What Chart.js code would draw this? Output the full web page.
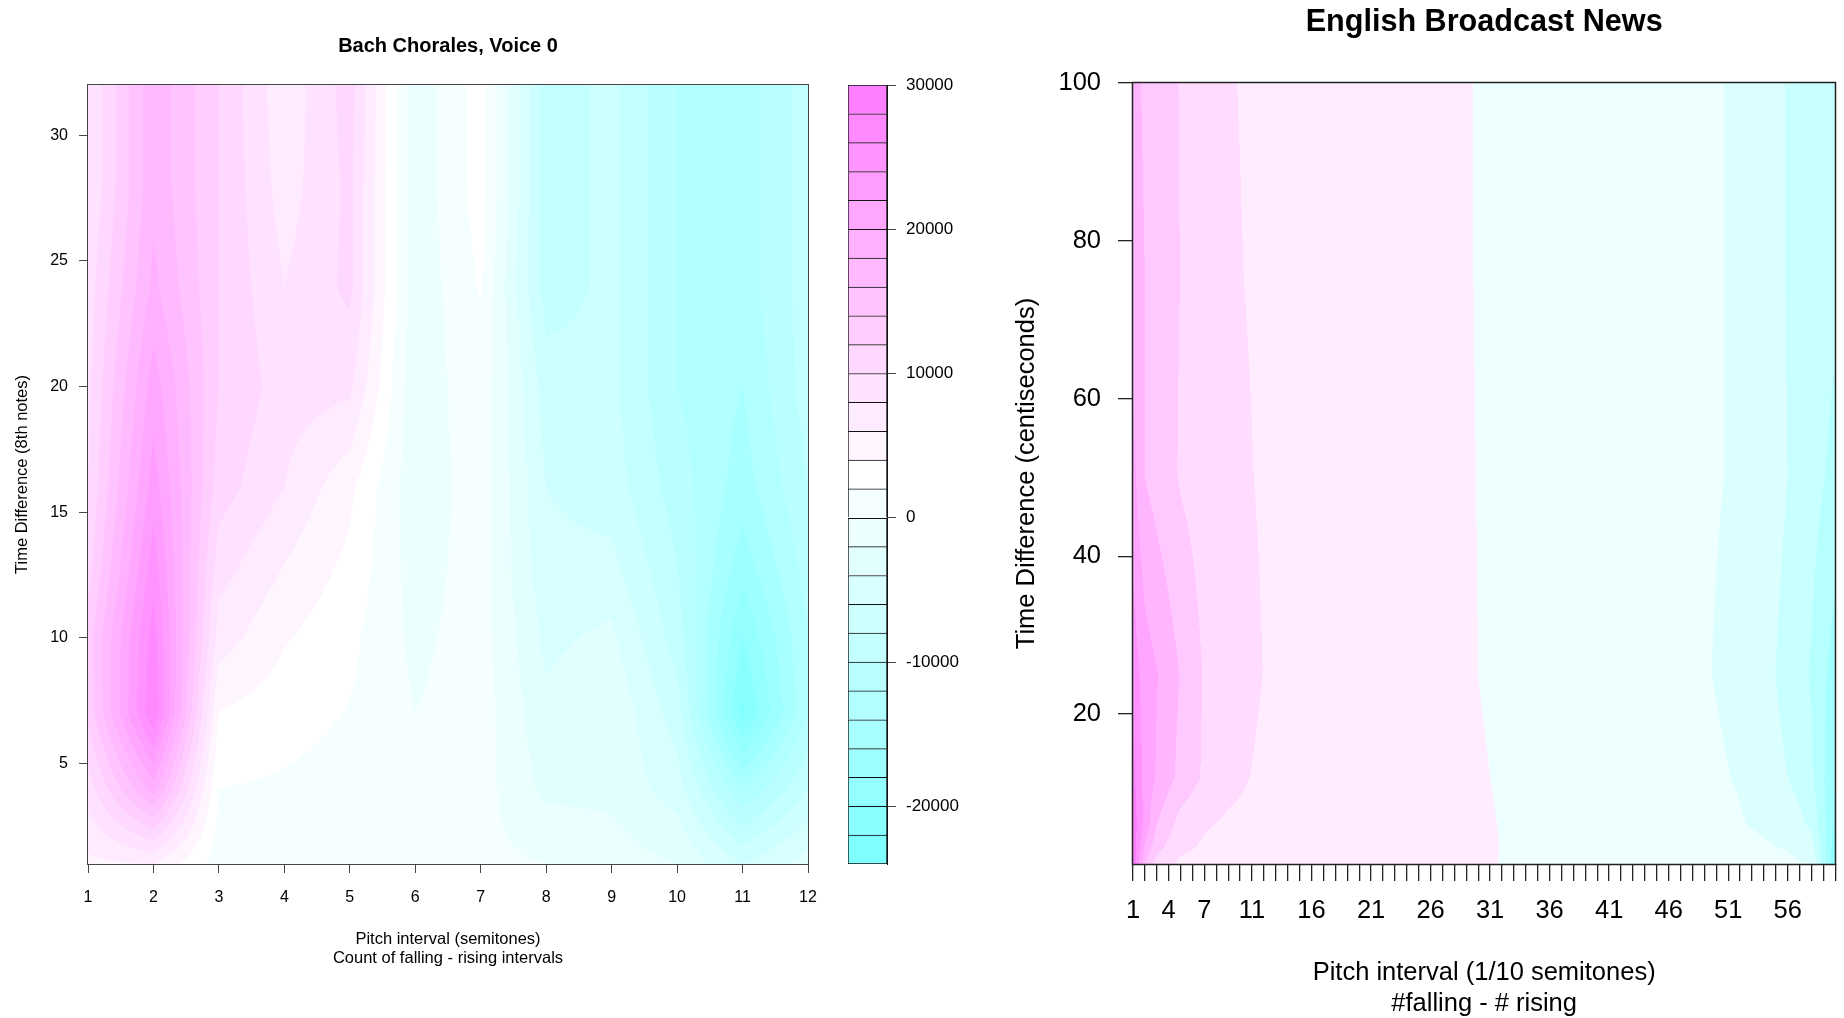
<!DOCTYPE html>
<html><head><meta charset="utf-8">
<script src="https://cdn.jsdelivr.net/npm/chart.js@4.4.1/dist/chart.umd.min.js"></script>
<style>
html,body{margin:0;padding:0;background:#fff;width:1844px;height:1018px;overflow:hidden;position:relative;}
.box{position:absolute;top:0;height:1018px;}
#w1{left:0;width:840px;} #w2{left:840px;width:150px;} #w3{left:990px;width:860px;}
canvas{display:block;}
</style></head><body>
<div class="box" id="w1"><canvas id="bach" width="840" height="1018"></canvas></div>
<div class="box" id="w2"><canvas id="bachKey" width="150" height="1018"></canvas></div>
<div class="box" id="w3"><canvas id="news" width="860" height="1018"></canvas></div>
<script>
// ---------------- Bach Chorales, Voice 0 ----------------
const bachPitch = [1, 2, 3, 4, 5, 6, 7, 8, 9, 10, 11, 12];          // semitones
const bachTime  = [1, 4, 7, 10, 13, 16, 20, 24, 28, 32];            // 8th notes
// count of falling - rising intervals; one row per bachTime value
const bachCount = [
  [ 5500,  6000,  1000,  1000,   800,   500,   500,     0, -1000,  -2000,  -6000,  -3000],
  [ 9000, 19000,  2000,  1700,  1200,   300,   800, -2500, -2500,  -5000, -14000,  -8000],
  [12500, 28000,  3900,  2800,  1900,     0,  1000, -3500, -2200,  -7000, -22500, -12000],
  [13000, 27000,  7000,  4200,  2500,  -500,  1000, -4500, -3500,  -9000, -20000, -12000],
  [11000, 25000,  9000,  6000,  3500, -1000,  1000, -5500, -5500, -10000, -17000, -11000],
  [10000, 23000, 11000,  8000,  4500, -1500,  1200, -6000, -7000, -11000, -15000, -10000],
  [ 9500, 21000, 12000,  9000,  8500, -1500,  1500, -7000, -7500, -12000, -14000,  -9000],
  [ 9000, 18500, 12000,  8000, 10500, -1500,  2200, -9000, -7500, -12000, -13000,  -9000],
  [ 8000, 17500, 12000,  7000, 10500, -1500,  3000, -9000, -7500, -12000, -13000,  -9000],
  [ 8000, 17500, 12000,  6500, 11000, -1500,  3000, -9000, -7500, -12000, -13000,  -9000]
];
const bachLevels = [-24000, -22000, -20000, -18000, -16000, -14000, -12000, -10000, -8000, -6000,
  -4000, -2000, 0, 2000, 4000, 6000, 8000, 10000, 12000, 14000, 16000, 18000, 20000, 22000,
  24000, 26000, 28000, 30000];
const bachXTicks = [1, 2, 3, 4, 5, 6, 7, 8, 9, 10, 11, 12];
const bachYTicks = [5, 10, 15, 20, 25, 30];
const bachKeyTicks = [-20000, -10000, 0, 10000, 20000, 30000];

// ---------------- English Broadcast News ----------------
const newsPitch = [1, 2, 3, 5, 7, 9, 12, 20, 28, 32, 40, 48, 52, 56, 58, 60];   // 1/10 semitones
const newsTime  = [1, 3, 6, 12, 25, 50, 75, 100];                                // centiseconds
// #falling - #rising (relative units); one row per newsTime value
const newsCount = [
  [6.9, 3.0, 1.5, 0.8, 0.65, 0.55, 0.5, 0.3, 0.2, -0.02, -0.25, -0.5, -0.6, -0.8, -1.0, -6.0],
  [6.8, 3.8, 2.3, 1.2, 0.85, 0.7, 0.6, 0.35, 0.2, -0.01, -0.3, -0.6, -0.75, -1.05, -1.6, -5.6],
  [6.6, 4.7, 3.0, 1.6, 1.1, 0.85, 0.7, 0.4, 0.18, -0.02, -0.35, -0.7, -0.95, -1.3, -2.2, -5.2],
  [6.3, 4.6, 3.9, 2.7, 1.85, 1.3, 0.8, 0.45, 0.15, -0.05, -0.4, -0.8, -1.05, -2.0, -2.8, -5.0],
  [5.6, 4.5, 4.05, 2.95, 1.9, 1.6, 0.98, 0.5, 0.1, -0.1, -0.4, -0.9, -1.15, -2.3, -3.1, -4.5],
  [4.3, 3.0, 2.6, 1.9, 1.55, 1.25, 0.9, 0.5, 0.1, -0.12, -0.45, -0.9, -1.05, -2.0, -2.6, -3.3],
  [3.5, 3.0, 2.6, 1.98, 1.6, 1.1, 0.87, 0.5, 0.1, -0.15, -0.45, -0.9, -1.05, -2.05, -2.4, -2.8],
  [3.3, 2.85, 2.5, 1.95, 1.6, 1.05, 0.85, 0.5, 0.1, -0.15, -0.45, -0.9, -1.05, -2.05, -2.3, -2.6]
];
const newsLevels = [-7, -6, -5, -4, -3, -2, -1, 0, 1, 2, 3, 4, 5, 6, 7];
const newsXTicks = [1,2,3,4,5,6,7,8,9,10,11,12,13,14,15,16,17,18,19,20,21,22,23,24,25,26,27,28,29,30,
  31,32,33,34,35,36,37,38,39,40,41,42,43,44,45,46,47,48,49,50,51,52,53,54,55,56,57,58,59,60];
const newsXTickLabels = [1, 4, 7, 11, 16, 21, 26, 31, 36, 41, 46, 51, 56];
const newsYTicks = [20, 40, 60, 80, 100];

// ---------------- helpers ----------------
Chart.defaults.font.family = "'Liberation Sans', Arial, Helvetica, sans-serif";
Chart.defaults.color = '#000';

function seq(a, b, n) { const o = []; for (let i = 0; i < n; i++) o.push(n === 1 ? a : a + (b - a) * i / (n - 1)); return o; }
// R's cm.colors palette (cyan -> white -> magenta)
function cmColors(n) {
  const even = n % 2 === 0, k = Math.floor(n / 2);
  const l1 = k + 1 - (even ? 1 : 0), l2 = n - k + (even ? 1 : 0);
  const out = [];
  seq(0.5, even ? 0.5 / k : 0, l1).forEach(s => out.push([Math.round(255 * (1 - s)), 255, 255]));
  seq(0, 0.5, l2).slice(1).forEach(s => out.push([255, Math.round(255 * (1 - s)), 255]));
  return out;
}
const rgb = c => `rgb(${c[0]},${c[1]},${c[2]})`;
function locate(g, v) {
  let i = 0;
  while (i < g.length - 2 && v > g[i + 1]) i++;
  let t = (v - g[i]) / (g[i + 1] - g[i]);
  return [i, Math.max(0, Math.min(1, t))];
}
function gridPoints(gx, gy, z) {
  const pts = [];
  gy.forEach((yv, j) => gx.forEach((xv, i) => pts.push({x: xv, y: yv, v: z[j][i]})));
  return pts;
}
// filled-contour painter: colours every pixel of the plot area by the band its value falls in
function contourFill(gx, gy, z, levels, colors, frame) {
  return {
    id: 'contourFill',
    beforeDraw(chart) {
      const {ctx, chartArea: a, scales} = chart;
      const sx = scales.x, sy = scales.y;
      const L = Math.round(a.left), T = Math.round(a.top);
      const w = Math.round(a.right) - L, h = Math.round(a.bottom) - T;
      const img = ctx.createImageData(w, h), d = img.data;
      const ci = new Int32Array(w), ct = new Float64Array(w);
      for (let px = 0; px < w; px++) { const r = locate(gx, sx.getValueForPixel(L + px + 0.5)); ci[px] = r[0]; ct[px] = r[1]; }
      const nb = colors.length;
      for (let py = 0; py < h; py++) {
        const r = locate(gy, sy.getValueForPixel(T + py + 0.5));
        const j = r[0], u = r[1], r0 = z[j], r1 = z[j + 1];
        for (let px = 0; px < w; px++) {
          const i = ci[px], t = ct[px];
          const a0 = r0[i] + (r0[i + 1] - r0[i]) * t;
          const a1 = r1[i] + (r1[i + 1] - r1[i]) * t;
          const v = a0 + (a1 - a0) * u;
          let k = 0;
          while (k < nb - 1 && v >= levels[k + 1]) k++;
          const c = colors[k], o = (py * w + px) * 4;
          d[o] = c[0]; d[o + 1] = c[1]; d[o + 2] = c[2]; d[o + 3] = 255;
        }
      }
      ctx.putImageData(img, L, T);
    },
    afterDraw(chart) {
      const {ctx, chartArea: a} = chart;
      const L = Math.round(a.left), T = Math.round(a.top), R = Math.round(a.right), B = Math.round(a.bottom);
      ctx.save();
      ctx.strokeStyle = frame.color; ctx.lineWidth = frame.width;
      ctx.strokeRect(L - 0.5, T - 0.5, R - L + 1, B - T + 1);
      ctx.restore();
    }
  };
}

// ---------------- Bach chart ----------------
const bachColors = cmColors(bachLevels.length - 1);
new Chart(document.getElementById('bach'), {
  type: 'scatter',
  data: {datasets: [{data: gridPoints(bachPitch, bachTime, bachCount), pointRadius: 0, pointHoverRadius: 0, showLine: false}]},
  options: {
    responsive: false, animation: false, devicePixelRatio: 1, events: [],
    layout: {padding: {left: 0, right: 32, top: 0, bottom: 0}},
    plugins: {
      legend: {display: false}, tooltip: {enabled: false},
      title: {display: true, text: 'Bach Chorales, Voice 0', fullSize: false, color: '#000',
        font: {size: 20, weight: 'bold', lineHeight: 1.2}, padding: {top: 34, bottom: 27}}
    },
    scales: {
      x: {
        type: 'linear', min: 1, max: 12,
        afterBuildTicks: s => { s.ticks = bachXTicks.map(v => ({value: v})); },
        afterFit: s => { s.height = 154; },
        ticks: {autoSkip: false, maxRotation: 0, minRotation: 0, padding: 15.4, font: {size: 16}, color: '#000', callback: v => String(v)},
        grid: {drawOnChartArea: false, drawTicks: true, tickLength: 9, color: '#444', lineWidth: 1},
        border: {display: false},
        title: {display: true, text: ['Pitch interval (semitones)', 'Count of falling - rising intervals'], color: '#000',
          font: {size: 16.5, lineHeight: 1.15}, padding: {top: 0, bottom: 50}}
      },
      y: {
        type: 'linear', min: 1, max: 32,
        afterBuildTicks: s => { s.ticks = bachYTicks.map(v => ({value: v})); },
        afterFit: s => { s.width = 88; },
        ticks: {padding: 11, font: {size: 16}, color: '#000', callback: v => String(v)},
        grid: {drawOnChartArea: false, drawTicks: true, tickLength: 9, color: '#444', lineWidth: 1},
        border: {display: false},
        title: {display: true, text: 'Time Difference (8th notes)', color: '#000', font: {size: 16.5, lineHeight: 1.2}, padding: {top: 12.5, bottom: 0}}
      }
    }
  },
  plugins: [contourFill(bachPitch, bachTime, bachCount, bachLevels, bachColors, {color: '#444', width: 1})]
});

// ---------------- Bach colour key ----------------
new Chart(document.getElementById('bachKey'), {
  type: 'bar',
  data: {
    labels: ['key'],
    datasets: bachColors.map((c, k) => ({
      data: [[bachLevels[k], bachLevels[k + 1]]],
      backgroundColor: rgb(c), borderColor: '#111',
      borderWidth: {top: 1, left: 1, right: 1, bottom: k === 0 ? 1 : 0},
      borderSkipped: false, barPercentage: 1, categoryPercentage: 1, grouped: false
    }))
  },
  options: {
    responsive: false, animation: false, devicePixelRatio: 1, events: [],
    layout: {padding: {left: 8, right: 0, top: 85, bottom: 154}},
    plugins: {legend: {display: false}, tooltip: {enabled: false}},
    scales: {
      x: {display: false},
      y: {
        type: 'linear', position: 'right', min: -24000, max: 30000,
        afterBuildTicks: s => { s.ticks = bachKeyTicks.map(v => ({value: v})); },
        afterFit: s => { s.width = 103; },
        ticks: {padding: 10, font: {size: 17}, color: '#000', callback: v => String(v)},
        grid: {drawOnChartArea: false, drawTicks: true, tickLength: 9, color: '#444', lineWidth: 1},
        border: {display: true, color: '#111', width: 1}
      }
    }
  }
});

// ---------------- English Broadcast News chart ----------------
const newsColors = cmColors(newsLevels.length - 1);
new Chart(document.getElementById('news'), {
  type: 'scatter',
  data: {datasets: [{data: gridPoints(newsPitch, newsTime, newsCount), pointRadius: 0, pointHoverRadius: 0, showLine: false}]},
  options: {
    responsive: false, animation: false, devicePixelRatio: 1, events: [],
    layout: {padding: {left: 0, right: 0, top: 0, bottom: 0}},
    plugins: {
      legend: {display: false}, tooltip: {enabled: false},
      title: {display: true, text: 'English Broadcast News', fullSize: false, color: '#000',
        font: {size: 30.6, weight: 'bold', lineHeight: 1.2}, padding: {top: 4, bottom: 42.3}}
    },
    scales: {
      x: {
        type: 'linear', min: 1, max: 60,
        afterBuildTicks: s => { s.ticks = newsXTicks.map(v => ({value: v})); },
        afterFit: s => { s.height = 154; },
        ticks: {autoSkip: false, maxRotation: 0, minRotation: 0, padding: 14.7, font: {size: 25.5}, color: '#000',
          callback: v => newsXTickLabels.includes(v) ? String(v) : ''},
        grid: {drawOnChartArea: false, drawTicks: true, tickLength: 17, color: '#222', lineWidth: 1.3},
        border: {display: false},
        title: {display: true, text: ['Pitch interval (1/10 semitones)', '#falling - # rising'], color: '#000',
          font: {size: 25.5, lineHeight: 1.216}, padding: {top: 0, bottom: -1.5}}
      },
      y: {
        type: 'linear', min: 1, max: 100,
        afterBuildTicks: s => { s.ticks = newsYTicks.map(v => ({value: v})); },
        afterFit: s => { s.width = 143; },
        ticks: {padding: 17, font: {size: 25.5}, color: '#000', callback: v => String(v)},
        grid: {drawOnChartArea: false, drawTicks: true, tickLength: 15, color: '#222', lineWidth: 1.3},
        border: {display: false},
        title: {display: true, text: 'Time Difference (centiseconds)', color: '#000', font: {size: 25.5, lineHeight: 1.2}, padding: {top: 22, bottom: 0}}
      }
    }
  },
  plugins: [contourFill(newsPitch, newsTime, newsCount, newsLevels, newsColors, {color: '#222', width: 1.5})]
});
</script>
</body></html>
